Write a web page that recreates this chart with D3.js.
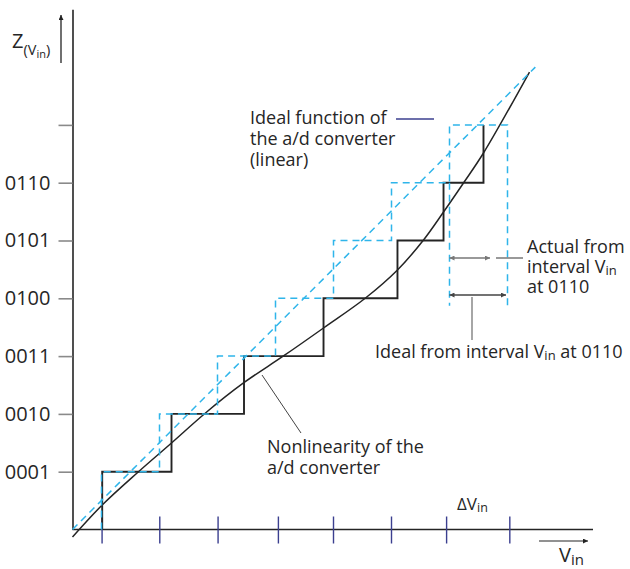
<!DOCTYPE html>
<html lang="en">
<head>
<meta charset="UTF-8">
<title>A/D converter nonlinearity</title>
<script src="https://d3js.org/d3.v7.min.js"></script>
<style>
    body { margin: 0; background: #fff; }
    svg { display: block; font-family: "Open Sans", "Liberation Sans", sans-serif; fill: #262626; }
    .lbl { font-size: 18px; fill: #262626; }
</style>
</head>
<body>
<svg id="chart" width="630" height="569"></svg>
<script>
// output codes on the Z axis
const codeLevels = [1, 2, 3, 4, 5, 6, 7];
const codeLabels = ["0001", "0010", "0011", "0100", "0101", "0110", ""];
// ticks on the V_in axis (in LSB units)
const vinTicks = [0.51, 1.505, 2.51, 3.55, 4.5, 5.5, 6.45, 7.54];
// ideal transition points (LSB units) and measured ones
const idealEdges = [0.5, 1.5, 2.5, 3.5, 4.5, 5.5, 6.5, 7.5];
const actualEdges = [0.512, 1.707, 2.957, 4.328, 5.603, 6.397, 7.086];
// nonlinear transfer curve
const curveV = [0, 0.512, 1.133, 1.707, 2.293, 2.948, 3.638, 4.328, 5.052, 5.603, 6.052, 6.397, 6.741, 7.086, 7.879];
const curveZ = [-0.13, 0.424, 0.995, 1.497, 2.016, 2.535, 3.002, 3.486, 4.005, 4.49, 5.009, 5.493, 5.995, 6.514, 7.915];
// ideal linear function end points
const idealLine = [[0, 0], [7.98, 8.0]];

const svg = d3.select("#chart");
const x = d3.scaleLinear().domain([0, 9]).range([72.5, 594.5]);
const y = d3.scaleLinear().domain([0, 9]).range([529.5, 9.3]);

const blue = "#2fb5ea", navy = "#3b3f8f", ink = "#242424";
const line = d3.line().x(d => x(d[0])).y(d => y(d[1]));

// y axis
const yAxis = svg.append("g").attr("transform", `translate(${x(0)},0)`)
    .call(d3.axisLeft(y).tickValues(codeLevels).tickSize(14).tickSizeOuter(0).tickPadding(8)
        .tickFormat((d, i) => codeLabels[i]));
yAxis.select(".domain").attr("stroke", ink).attr("stroke-width", 1.6);
yAxis.selectAll(".tick line").attr("stroke", "#8a8a8a").attr("stroke-width", 1.6);
yAxis.selectAll(".tick text").attr("font-size", 20).attr("fill", "#262626")
    .attr("font-family", "'Open Sans', sans-serif");

// x axis
svg.append("line").attr("x1", x(0)).attr("x2", 593).attr("y1", y(0)).attr("y2", y(0))
    .attr("stroke", ink).attr("stroke-width", 1.5);
svg.append("g").selectAll("line").data(vinTicks).join("line")
    .attr("x1", d => x(d)).attr("x2", d => x(d))
    .attr("y1", y(0) - 13).attr("y2", y(0) + 14)
    .attr("stroke", navy).attr("stroke-width", 1.4);

// actual staircase
const actPath = [];
actualEdges.forEach((e, i) => {
    actPath.push([e, i]);
    actPath.push([e, i + 1]);
    if (i < actualEdges.length - 1) actPath.push([actualEdges[i + 1], i + 1]);
});
svg.append("path").attr("d", line(actPath)).attr("fill", "none")
    .attr("stroke", ink).attr("stroke-width", 1.9);

// nonlinear curve
svg.append("path")
    .attr("d", d3.line().x((d, i) => x(curveV[i])).y(d => y(d)).curve(d3.curveCatmullRom)(curveZ))
    .attr("fill", "none").attr("stroke", ink).attr("stroke-width", 1.5);

// ideal staircase (dashed)
const idPath = [];
idealEdges.forEach((e, i) => {
    if (i < idealEdges.length - 1) {
        idPath.push([e, i]);
        idPath.push([e, i + 1]);
        idPath.push([idealEdges[i + 1], i + 1]);
    }
});
idPath.push([7.5, 3.87]);
const dashed = g => g.attr("fill", "none").attr("stroke", blue).attr("stroke-width", 1.5)
    .attr("stroke-dasharray", "7,5");
svg.append("path").attr("d", line(idPath)).call(dashed);
svg.append("path").attr("d", line([[6.5, 6], [6.5, 3.87]])).call(dashed);
svg.append("path").attr("d", line(idealLine)).call(dashed);

// markers
const defs = svg.append("defs");
function marker(id, color) {
    defs.append("marker").attr("id", id).attr("viewBox", "0 0 10 10").attr("refX", 10).attr("refY", 5)
        .attr("markerWidth", 6).attr("markerHeight", 5).attr("orient", "auto-start-reverse")
        .attr("markerUnits", "userSpaceOnUse")
        .append("path").attr("d", "M0,0L10,5L0,10z").attr("fill", color);
}
marker("ag", "#777");
marker("ad", "#444");
marker("ak", "#222");

// y arrow & label
svg.append("line").attr("x1", 61).attr("x2", 61).attr("y1", 63).attr("y2", 15)
    .attr("stroke", ink).attr("stroke-width", 1.3).attr("marker-end", "url(#ak)");
const zt = svg.append("text").attr("x", 12).attr("y", 48).attr("font-size", 20);
zt.append("tspan").text("Z");
zt.append("tspan").attr("font-size", 14.5).attr("dy", 7).text("(V");
zt.append("tspan").attr("font-size", 11).attr("dy", 3).text("in");
zt.append("tspan").attr("font-size", 14.5).attr("dy", -3).text(")");

// x arrow & label
svg.append("line").attr("x1", 539).attr("x2", 588).attr("y1", 541).attr("y2", 541)
    .attr("stroke", ink).attr("stroke-width", 1.2).attr("marker-end", "url(#ak)");
const vt = svg.append("text").attr("x", 559).attr("y", 562).attr("font-size", 20);
vt.append("tspan").text("V");
vt.append("tspan").attr("font-size", 15).attr("dy", 3).text("in");

// delta V_in
const dv = svg.append("text").attr("x", 457).attr("y", 510).attr("font-size", 17);
dv.append("tspan").text("\u0394V");
dv.append("tspan").attr("font-size", 12.5).attr("dy", 2).text("in");

// ideal function annotation
[["Ideal function of", 124], ["the a/d converter", 145], ["(linear)", 166]].forEach(([t, yy]) =>
    svg.append("text").attr("class", "lbl").attr("x", 250).attr("y", yy).text(t));
svg.append("line").attr("x1", 396).attr("x2", 434).attr("y1", 119).attr("y2", 119)
    .attr("stroke", navy).attr("stroke-width", 1.5);

// nonlinearity annotation
svg.append("line").attr("x1", 262).attr("y1", 375).attr("x2", 301).attr("y2", 433)
    .attr("stroke", "#444").attr("stroke-width", 1);
[["Nonlinearity of the", 453], ["a/d converter", 473.5]].forEach(([t, yy]) =>
    svg.append("text").attr("class", "lbl").attr("x", 267).attr("y", yy).text(t));

// actual interval arrow
svg.append("line").attr("x1", 449.5).attr("x2", 490).attr("y1", 258).attr("y2", 258)
    .attr("stroke", "#777").attr("stroke-width", 1.5)
    .attr("marker-start", "url(#ag)").attr("marker-end", "url(#ag)");
svg.append("line").attr("x1", 496).attr("x2", 523).attr("y1", 258).attr("y2", 258)
    .attr("stroke", "#555").attr("stroke-width", 1.2);
svg.append("text").attr("class", "lbl").attr("x", 527).attr("y", 253).text("Actual from");
const it = svg.append("text").attr("class", "lbl").attr("x", 527).attr("y", 273);
it.append("tspan").text("interval V");
it.append("tspan").attr("font-size", 13).attr("dy", 2).text("in");
svg.append("text").attr("class", "lbl").attr("x", 527).attr("y", 293).text("at 0110");

// ideal interval arrow
svg.append("line").attr("x1", 449.5).attr("x2", 506).attr("y1", 295).attr("y2", 295)
    .attr("stroke", "#444").attr("stroke-width", 1.5)
    .attr("marker-start", "url(#ad)").attr("marker-end", "url(#ad)");
svg.append("line").attr("x1", 472).attr("x2", 472).attr("y1", 297).attr("y2", 340)
    .attr("stroke", "#888").attr("stroke-width", 1.5);
const il = svg.append("text").attr("class", "lbl").attr("x", 375).attr("y", 358);
il.append("tspan").text("Ideal from interval V");
il.append("tspan").attr("font-size", 13).attr("dy", 2).text("in");
il.append("tspan").attr("dy", -2).text(" at 0110");
</script>
</body>
</html>
